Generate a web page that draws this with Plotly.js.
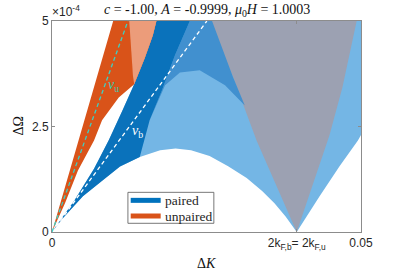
<!DOCTYPE html>
<html>
<head>
<meta charset="utf-8">
<script src="https://cdn.plot.ly/plotly-3.0.1.min.js"></script>
<style>html,body{margin:0;padding:0;background:#fff;}#chart{width:399px;height:276px;}</style>
</head>
<body>
<div id="chart"></div>
<script>
// ---- data (x = ΔK, y = ΔΩ in units of 1e-4) ----
// paired (blue) continuum: upper edge, lower dome, edge beyond 2kF
const pairedUpperK = [0, 0.0036, 0.0068, 0.0092, 0.0114, 0.0133, 0.0150, 0.0163, 0.0169];
const pairedUpperW = [0, 0.74, 1.50, 2.18, 2.88, 3.50, 4.12, 4.65, 5.0];
const pairedDomeK = [0, 0.0016, 0.0050, 0.0080, 0.0110, 0.0142, 0.0175, 0.0200, 0.0225, 0.0255, 0.0285, 0.0315, 0.0340, 0.0360, 0.0378, 0.0396];
const pairedDomeW = [0, 0.30, 0.85, 1.20, 1.55, 1.78, 1.94, 1.98, 1.94, 1.80, 1.56, 1.28, 0.97, 0.68, 0.37, 0];
const pairedOuterK = [0.0396, 0.0433, 0.0465, 0.0495, 0.05];
const pairedOuterW = [0, 0.85, 1.55, 2.17, 2.30];
// dense (dark) part of paired lines
const pairedDenseK = [0.0223, 0.0199, 0.0178, 0.0158, 0.0142];
const pairedDenseW = [5.0, 4.19, 3.36, 2.65, 1.78];
// medium part above the light bubble
const pairedMidK = [0.0223, 0.0259, 0.0293, 0.0312, 0.0280, 0.0239, 0.0207, 0.0183, 0.0158, 0.0178, 0.0199];
const pairedMidW = [5.0, 5.0, 3.67, 3.00, 3.48, 3.83, 3.78, 3.48, 2.65, 3.36, 4.19];
// overlap of unpaired and paired lines (grey)
const overlapK = [0.0255, 0.0493, 0.0470, 0.0449, 0.0396, 0.0331, 0.0293];
const overlapW = [5.0, 5.0, 3.43, 2.29, 0, 2.17, 3.67];
// unpaired (orange) continuum
const unpairedUpperK = [0, 0.0029, 0.0052, 0.0076, 0.0099];
const unpairedUpperW = [0, 1.46, 2.65, 3.82, 5.0];
const unpairedLowerK = [0, 0.0021, 0.0042, 0.0068, 0.0081, 0.0108, 0.0133];
const unpairedLowerW = [0, 0.68, 1.46, 2.17, 2.65, 3.19, 3.50];
const unpairedSparseK = [0.0125, 0.0169, 0.0163, 0.0150, 0.0133, 0.0131];
const unpairedSparseW = [5.0, 5.0, 4.65, 4.12, 3.50, 3.70];
// velocity lines
const vuK = [0, 0.01229];
const vuW = [0, 5.0];
const vbK = [0, 0.02506];
const vbW = [0, 5.0];
// ticks and names
const xTickVals = [0, 0.0396, 0.05];
const xTickText = ['0', '2k<sub>F,b</sub>= 2k<sub>F,u</sub>', '0.05'];
const yTickVals = [0, 2.5, 5];
const yTickText = ['0', '2.5', '5'];
const seriesNames = ['paired', 'unpaired'];
const seriesColors = ['#0072bd', '#d95319'];

// ---- build polygons ----
function poly(xa, ya, color) {
  return {x: xa.concat([xa[0]]), y: ya.concat([ya[0]]), type: 'scatter', mode: 'lines',
    fill: 'toself', fillcolor: color, line: {width: 0, color: color}, hoverinfo: 'skip', showlegend: false};
}
const rev = a => a.slice().reverse();

const blueAllK = pairedUpperK.concat([0.05, 0.05], rev(pairedOuterK).slice(1), rev(pairedDomeK).slice(1));
const blueAllW = pairedUpperW.concat([5.0, 2.30], rev(pairedOuterW).slice(1), rev(pairedDomeW).slice(1));

const darkK = pairedUpperK.concat(pairedDenseK, rev(pairedDomeK.slice(0, 6)));
const darkW = pairedUpperW.concat(pairedDenseW, rev(pairedDomeW.slice(0, 6)));

const orangeK = unpairedUpperK.concat(unpairedSparseK.slice(1, 5), rev(unpairedLowerK).slice(1));
const orangeW = unpairedUpperW.concat(unpairedSparseW.slice(1, 5), rev(unpairedLowerW).slice(1));

const traces = [
  poly(blueAllK, blueAllW, '#74b6e5'),
  poly(overlapK, overlapW, '#9ca1b2'),
  poly(pairedMidK, pairedMidW, '#4190cf'),
  poly(darkK, darkW, '#0a72bb'),
  poly(orangeK, orangeW, '#d95319'),
  poly(unpairedSparseK, unpairedSparseW, '#ec9c7a'),
  {x: vbK, y: vbW, type: 'scatter', mode: 'lines', line: {color: '#ffffff', width: 1.3, dash: '4px,3px'}, hoverinfo: 'skip', showlegend: false},
  {x: vuK, y: vuW, type: 'scatter', mode: 'lines', line: {color: '#3cd0c4', width: 1.3, dash: '4px,3px'}, hoverinfo: 'skip', showlegend: false}
];

const serif = '"Liberation Serif", "DejaVu Serif", serif';
const sans = '"Liberation Sans", Arial, sans-serif';
const axisCol = '#8c8c8c';

// legend drawn in paper coordinates
const legX0 = 0.2457, legX1 = 0.5238, legY0 = 0.0412, legY1 = 0.188;
const legRows = [0.150, 0.0758];
const shapes = [
  {type: 'rect', xref: 'paper', yref: 'paper', x0: legX0, x1: legX1, y0: legY0, y1: legY1,
    fillcolor: '#ffffff', line: {color: '#555555', width: 0.8}, layer: 'above'}
];
const annotations = [
  {text: '<i>c</i> = -1.00, <i>A</i> = -0.9999, <i>μ</i><sub>0</sub><i>H</i> = 1.0003', xref: 'paper', yref: 'paper',
    x: 0.5, y: 1, yanchor: 'middle', yshift: 11, showarrow: false, font: {family: serif, size: 14, color: '#111111'}},
  {text: '×10<sup>-4</sup>', xref: 'paper', yref: 'paper', x: 0, y: 1, xanchor: 'left', yanchor: 'bottom', xshift: -2,
    showarrow: false, font: {family: sans, size: 12, color: '#262626'}},
  {text: 'Δ<i>K</i>', xref: 'paper', yref: 'paper', x: 0.5, y: 0, yanchor: 'middle', yshift: -31, showarrow: false,
    font: {family: serif, size: 14, color: '#111111'}},
  {text: 'ΔΩ', xref: 'paper', yref: 'paper', x: 0, y: 0.5, xanchor: 'center', xshift: -34, textangle: -90, showarrow: false,
    font: {family: serif, size: 14, color: '#111111'}},
  {text: '<i>v</i><sub>u</sub>', x: 0.0100, y: 3.47, showarrow: false, font: {family: serif, size: 14, color: '#3cc8b4'}},
  {text: '<i>v</i><sub>b</sub>', x: 0.0139, y: 2.39, showarrow: false, font: {family: serif, size: 14, color: '#ffffff'}}
];
seriesNames.forEach((nm, i) => {
  shapes.push({type: 'line', xref: 'paper', yref: 'paper', x0: legX0 + 0.009, x1: legX0 + 0.106,
    y0: legRows[i], y1: legRows[i], line: {color: seriesColors[i], width: 5}, layer: 'above'});
  annotations.push({text: nm, xref: 'paper', yref: 'paper', x: legX0 + 0.113, y: legRows[i], xanchor: 'left',
    yanchor: 'middle', showarrow: false, font: {family: serif, size: 13.5, color: '#262626'}});
});

const layout = {
  width: 399, height: 276,
  margin: {l: 52, r: 38, t: 21, b: 44, pad: 0},
  paper_bgcolor: '#ffffff', plot_bgcolor: '#ffffff',
  showlegend: false,
  xaxis: {range: [0, 0.05], tickvals: xTickVals, ticktext: xTickText, ticks: 'inside', ticklen: 3,
    tickcolor: axisCol, showline: true, linecolor: axisCol, linewidth: 1, mirror: 'ticks',
    showgrid: false, zeroline: false, tickfont: {family: sans, size: 12, color: '#262626'}, fixedrange: true},
  yaxis: {range: [0, 5], tickvals: yTickVals, ticktext: yTickText, ticks: 'inside', ticklen: 3,
    tickcolor: axisCol, showline: true, linecolor: axisCol, linewidth: 1, mirror: 'ticks',
    showgrid: false, zeroline: false, tickfont: {family: sans, size: 12, color: '#262626'}, fixedrange: true},
  shapes: shapes,
  annotations: annotations
};

Plotly.newPlot('chart', traces, layout, {staticPlot: true, displayModeBar: false});
</script>
</body>
</html>
